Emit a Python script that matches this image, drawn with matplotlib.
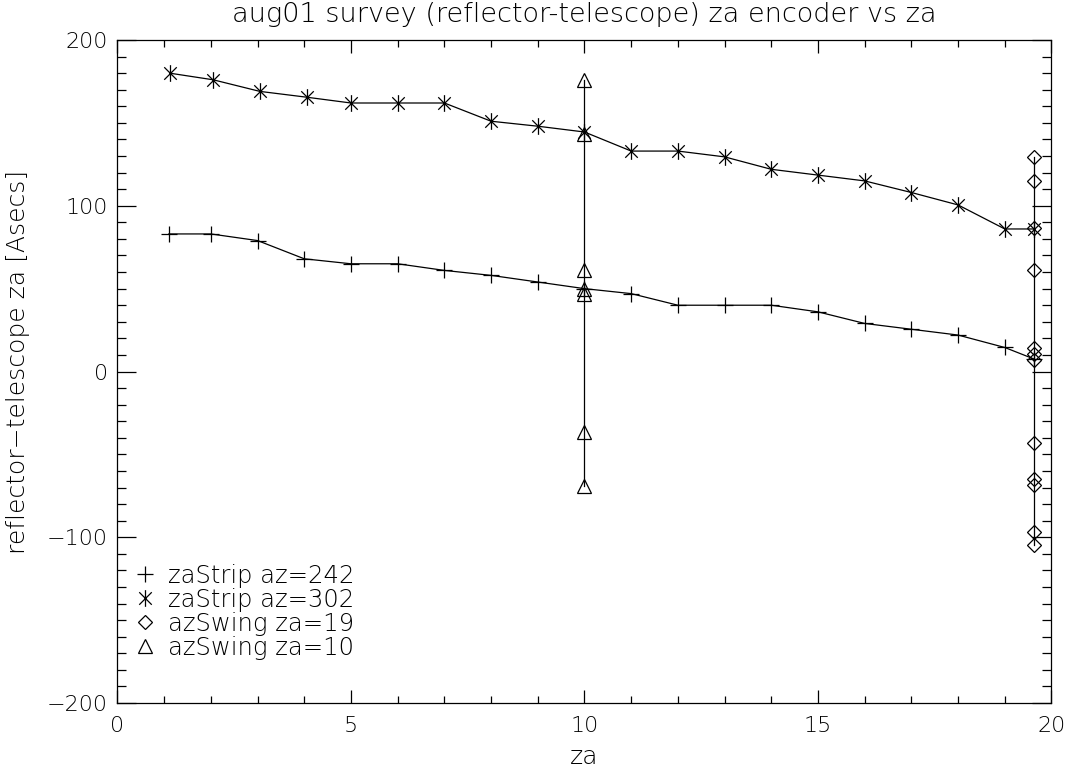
# %%
# Imports
import matplotlib

matplotlib.use("Agg")
import matplotlib.pyplot as plt
from matplotlib.lines import Line2D
from matplotlib.path import Path
from matplotlib.ticker import MultipleLocator

# %%
# Data
strip242_za = [1.1, 2.0, 3.0, 4.0, 5.0, 6.0, 7.0, 8.0, 9.0, 10.0,
               11.0, 12.0, 13.0, 14.0, 15.0, 16.0, 17.0, 18.0, 19.0, 19.63]
strip242_err = [83, 83, 79, 68, 65, 65, 61, 58, 54, 50,
                47, 40, 40, 40, 36, 29, 25.5, 22, 14.5, 7.5]

strip302_za = [1.12, 2.05, 3.05, 4.05, 5.0, 6.0, 7.0, 8.0, 9.0, 10.0,
               11.0, 12.0, 13.0, 14.0, 15.0, 16.0, 17.0, 18.0, 19.0, 19.62]
strip302_err = [180, 176, 169, 165.5, 162, 162, 162, 151, 148, 144.5,
                133, 133, 129.5, 122, 118.5, 115, 108, 100.5, 86, 86]

swing19_za = [19.62] * 12
swing19_err = [129.5, 115, 86.5, 61, 14, 10.5, 7, -43, -65, -68.5, -97, -104.5]

swing10_za = [10.0] * 7
swing10_err = [176, 143, 61, 50, 47, -36.5, -69]

labels = ["zaStrip az=242", "zaStrip az=302", "azSwing za=19", "azSwing za=10"]

# %%
# IDL-like asterisk marker (vertical bar + X)
asterisk = Path(
    [(0, -1), (0, 1), (-0.75, -0.75), (0.75, 0.75), (-0.75, 0.75), (0.75, -0.75)],
    [Path.MOVETO, Path.LINETO] * 3,
)

plt.rcParams["font.family"] = "DejaVu Sans"
plt.rcParams["font.weight"] = "light"
plt.rcParams["axes.titleweight"] = "light"
plt.rcParams["axes.labelweight"] = "light"
plt.rcParams["font.size"] = 16

fig = plt.figure(figsize=(10.7, 7.74), dpi=100)
ax = fig.add_axes([0.1098, 0.0917, 0.8729, 0.8566])

lw = 0.9
common = dict(color="black", lw=lw, mfc="none", mec="black", mew=0.9)
ax.plot(strip242_za, strip242_err, marker="+", ms=11, **common)
ax.plot(strip302_za, strip302_err, marker=asterisk, ms=12, **common)
ax.plot(swing19_za, swing19_err, marker="D", ms=7.5, **common)
ax.plot(swing10_za, swing10_err, marker="^", ms=10, **common)

# Legend: markers only, no frame
handles = [
    Line2D([], [], ls="none", marker="+", ms=11, mec="black", mew=0.9),
    Line2D([], [], ls="none", marker=asterisk, ms=12, mec="black", mew=0.9),
    Line2D([], [], ls="none", marker="D", ms=7, mfc="none", mec="black", mew=0.9),
    Line2D([], [], ls="none", marker="^", ms=10, mfc="none", mec="black", mew=0.9),
]
ax.legend(handles, labels, loc="upper left", bbox_to_anchor=(-0.001, 0.236),
          frameon=False, handlelength=0.9, handletextpad=0.5,
          labelspacing=0.0, borderpad=0.2, fontsize=17.5)

# Axes configuration
ax.set_xlim(0, 20)
ax.set_ylim(-200, 200)
ax.set_xticks([0, 5, 10, 15, 20])
ax.set_yticks([-200, -100, 0, 100, 200])
ax.set_yticklabels(["\u2212200", "\u2212100", "0", "100", "200"])
ax.xaxis.set_minor_locator(MultipleLocator(1))
ax.yaxis.set_minor_locator(MultipleLocator(10))
ax.tick_params(axis="both", which="both", direction="in", top=True, right=True,
               width=0.9, color="black")
ax.tick_params(axis="x", which="major", length=9.4, pad=9)
ax.tick_params(axis="x", which="minor", length=4.7)
ax.tick_params(axis="y", which="major", length=13.4, pad=7)
ax.tick_params(axis="y", which="minor", length=6.7)
for spine in ax.spines.values():
    spine.set_linewidth(0.9)

ax.set_title("aug01 survey (reflector-telescope) za encoder vs za", pad=13,
             fontsize=19.5)
ax.set_xlabel("za", fontsize=18)
ax.set_ylabel("reflector\u2212telescope za [Asecs]", fontsize=18)
ax.xaxis.set_label_coords(0.5, -0.063)
ax.yaxis.set_label_coords(-0.094, 0.515)

fig.savefig("out.png", dpi=100)
